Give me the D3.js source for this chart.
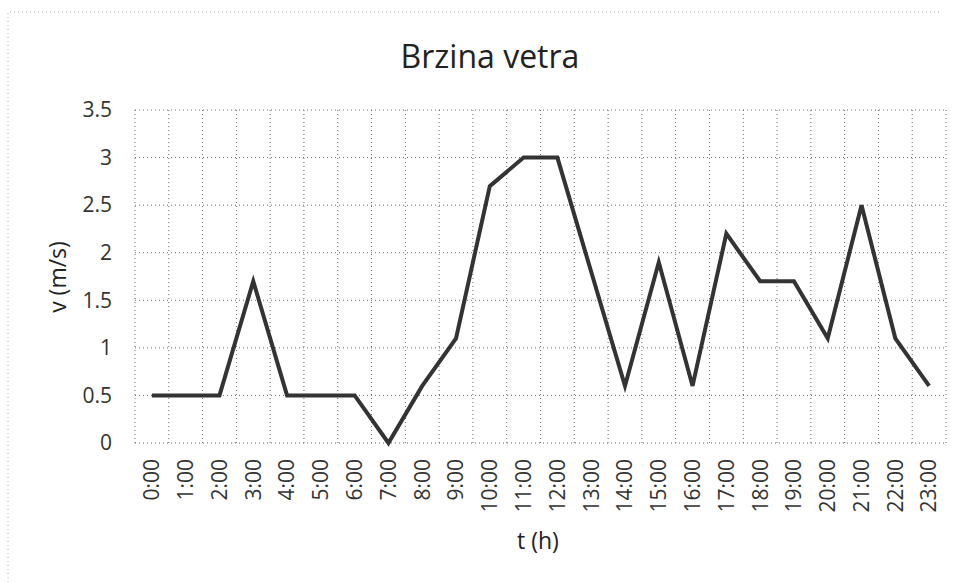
<!DOCTYPE html>
<html>
<head>
<meta charset="utf-8">
<script src="https://cdn.jsdelivr.net/npm/d3@7"></script>
<style>
  body { margin: 0; background: #fff; }
  text { font-family: "Open Sans", sans-serif; }
</style>
</head>
<body>
<div id="chart"></div>
<script>
// data
var hours = ['0:00', '1:00', '2:00', '3:00', '4:00', '5:00', '6:00', '7:00', '8:00', '9:00', '10:00', '11:00',
  '12:00', '13:00', '14:00', '15:00', '16:00', '17:00', '18:00', '19:00', '20:00', '21:00', '22:00', '23:00']
var speeds = [0.5, 0.5, 0.5, 1.7, 0.5, 0.5, 0.5, 0, 0.6, 1.1, 2.7, 3, 3, 1.8, 0.6, 1.9, 0.6, 2.2, 1.7, 1.7, 1.1, 2.5, 1.1, 0.6]
var yTicks = [0, 0.5, 1, 1.5, 2, 2.5, 3, 3.5]
var chartTitle = 'Brzina vetra'
var xTitle = 't (h)'
var yTitle = 'v (m/s)'

var margin = { top: 110, bottom: 139, left: 135, right: 14 }
var width = 960 - margin.left - margin.right
var height = 582 - margin.top - margin.bottom

var svg = d3.select('#chart')
  .append('svg')
  .attr('width', 960)
  .attr('height', 582)

// faint dotted chart border (scan)
svg.append('path')
  .attr('d', 'M8,582 L8,12 L940,12')
  .attr('fill', 'none')
  .attr('stroke', '#aaa')
  .attr('stroke-width', 1)
  .attr('stroke-dasharray', '1,3')

var g = svg.append('g')
  .attr('transform', 'translate(' + margin.left + ',' + margin.top + ')')

var x = d3.scaleBand()
  .domain(hours)
  .range([0, width])

var y = d3.scaleLinear()
  .domain([0, 3.5])
  .range([height, 0])

// vertical gridlines between categories
var bounds = hours.map(h => x(h)).concat([width])
g.selectAll('.vgrid')
  .data(bounds)
  .enter()
  .append('line')
  .attr('class', 'vgrid')
  .attr('x1', d => d).attr('x2', d => d)
  .attr('y1', 0).attr('y2', height)
  .attr('stroke', '#666')
  .attr('stroke-width', 1)
  .attr('stroke-dasharray', '1,3')

// horizontal gridlines
g.selectAll('.hgrid')
  .data(yTicks)
  .enter()
  .append('line')
  .attr('class', 'hgrid')
  .attr('x1', 0).attr('x2', width)
  .attr('y1', d => y(d)).attr('y2', d => y(d))
  .attr('stroke', '#666')
  .attr('stroke-width', 1)
  .attr('stroke-dasharray', '1,3')

// y axis
var yAxis = g.append('g')
  .call(d3.axisLeft(y).tickValues(yTicks).tickSize(0).tickPadding(23).tickFormat(d => d))
yAxis.select('.domain').remove()
yAxis.selectAll('text')
  .style('font-size', '21px')
  .attr('fill', '#333')

// x axis labels rotated
var xAxis = g.append('g')
  .attr('transform', 'translate(0,' + height + ')')
  .call(d3.axisBottom(x).tickSize(0))
xAxis.select('.domain').remove()
xAxis.selectAll('text')
  .style('font-size', '21px')
  .attr('fill', '#333')
  .attr('transform', 'rotate(-90)')
  .attr('text-anchor', 'end')
  .attr('dy', '0.35em')
  .attr('x', -16)
  .attr('y', 0)

// line
var line = d3.line()
  .x((d, i) => x(hours[i]) + x.bandwidth() / 2)
  .y(d => y(d))

g.append('path')
  .datum(speeds)
  .attr('d', line)
  .attr('fill', 'none')
  .attr('stroke', '#333')
  .attr('stroke-width', 4)
  .attr('stroke-linejoin', 'miter')

// titles
svg.append('text')
  .attr('x', 490)
  .attr('y', 68)
  .attr('text-anchor', 'middle')
  .style('font-size', '32px')
  .attr('fill', '#222')
  .text(chartTitle)

svg.append('text')
  .attr('x', 538)
  .attr('y', 549)
  .attr('text-anchor', 'middle')
  .style('font-size', '23px')
  .attr('fill', '#222')
  .text(xTitle)

svg.append('text')
  .attr('transform', 'translate(66,' + 277 + ') rotate(-90)')
  .attr('text-anchor', 'middle')
  .style('font-size', '23px')
  .attr('fill', '#222')
  .text(yTitle)
</script>
</body>
</html>
